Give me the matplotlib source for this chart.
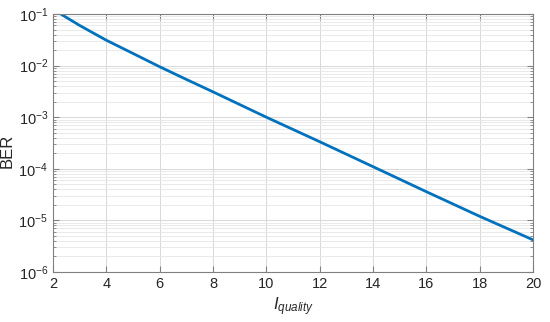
import matplotlib
matplotlib.use("Agg")
import matplotlib.pyplot as plt
from matplotlib.ticker import LogLocator, FixedLocator

plt.rcParams['font.family'] = ['Liberation Sans', 'DejaVu Sans']
plt.rcParams['mathtext.fontset'] = 'custom'
plt.rcParams['mathtext.rm'] = 'Liberation Sans'
plt.rcParams['mathtext.it'] = 'Liberation Sans:italic'
plt.rcParams['mathtext.sf'] = 'Liberation Sans'

i_quality = [2.29, 3.0, 4.0, 5.0, 6.0, 7.0, 8.0, 10.0, 12.0, 14.0, 16.0, 18.0, 20.0]
ber = [1.0e-1, 6.0e-2, 3.1e-2, 1.72e-2, 9.5e-3, 5.4e-3, 3.1e-3, 1.0e-3, 3.35e-4, 1.1e-4, 3.6e-5, 1.2e-5, 4.2e-6]
xticks = [2, 4, 6, 8, 10, 12, 14, 16, 18, 20]

fig = plt.figure(figsize=(5.5, 3.22), dpi=100)
ax = fig.add_axes([53/550, 1 - 272/322, (533-53)/550, (272-14)/322])

ax.plot(i_quality, ber, color='#0072BD', lw=2)
ax.set_yscale('log')
ax.set_xlim(2, 20)
ax.set_ylim(1e-6, 1e-1)
ax.xaxis.set_major_locator(FixedLocator(xticks))
ax.yaxis.set_major_locator(LogLocator(base=10, numticks=10))
ax.yaxis.set_minor_locator(LogLocator(base=10, subs=range(2, 10), numticks=20))

ax.grid(True, which='major', color='#d8d8d8', lw=0.7)
ax.grid(True, which='minor', axis='y', color='#e6e6e6', lw=0.6)
ax.set_axisbelow(True)

for s in ax.spines.values():
    s.set_color('#808080')
    s.set_linewidth(0.8)
ax.tick_params(which='both', direction='in', top=True, right=True, colors='#808080',
               labelcolor='#262626', labelsize=10.5)
ax.tick_params(which='major', length=4)
ax.tick_params(which='minor', length=2)

ax.set_ylabel('BER', fontsize=12, color='#262626')
ax.yaxis.set_label_coords(-0.08, 0.47)
ax.set_xlabel(r'$I_{quality}$', fontsize=12, color='#262626', labelpad=3)

fig.savefig('out.png', dpi=100)
